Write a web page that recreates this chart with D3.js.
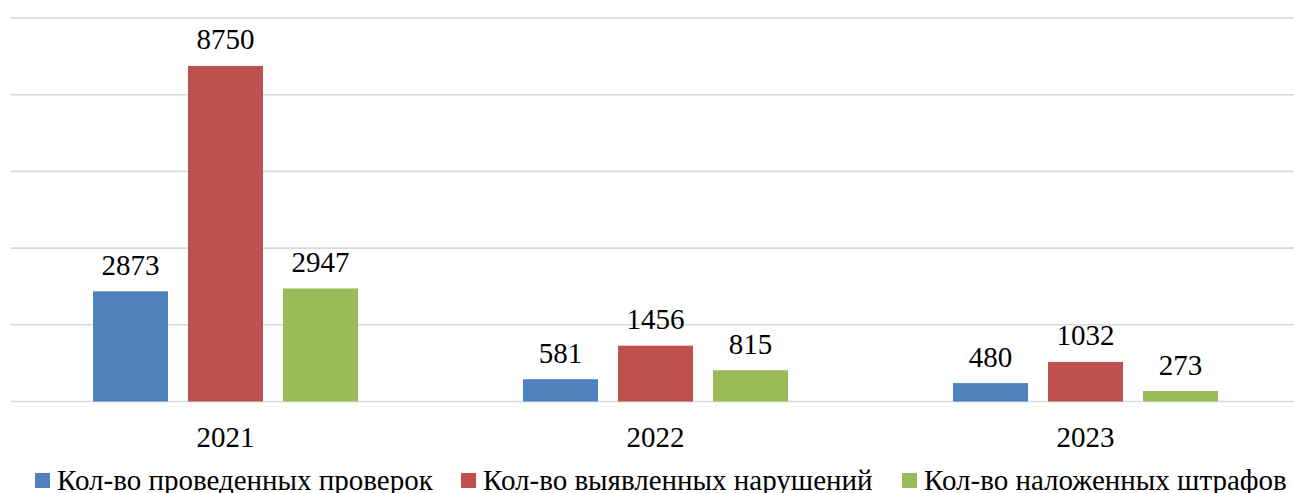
<!DOCTYPE html>
<html><head><meta charset="utf-8">
<script src="https://cdn.jsdelivr.net/npm/d3@7"></script>
</head>
<body style="margin:0">
<svg id="s" width="1294" height="493"></svg>
<script>
const categories = ["2021", "2022", "2023"];
const seriesNames = ["Кол-во проведенных проверок", "Кол-во выявленных нарушений", "Кол-во наложенных штрафов"];
const inspections = [2873, 581, 480];
const violations = [8750, 1456, 1032];
const fines = [2947, 815, 273];
const yTicks = [0, 2000, 4000, 6000, 8000, 10000];
const colors = ["#4f81bd", "#c0504d", "#9bbb59"];

(function () {
const FONT = '"Liberation Serif", Tinos, Times, monospace';
const series = [inspections, violations, fines];
const svg = d3.select("#s");
const pLeft = 10.5, pRight = 1300.5, pTop = 18, pBottom = 401.5;

const x = d3.scaleBand().domain(categories).range([pLeft, pRight]).padding(0);
const y = d3.scaleLinear().domain([0, 10000]).range([pBottom, pTop]);
const barW = 75, gap = 20;
const groupW = barW * 3 + gap * 2;
const xs = d3.scaleBand().domain(d3.range(series.length))
  .range([0, groupW]).paddingInner(gap / (barW + gap)).paddingOuter(0);

svg.append("g").selectAll("line").data(yTicks).join("line")
  .attr("x1", pLeft).attr("x2", pRight)
  .attr("y1", d => y(d)).attr("y2", d => y(d))
  .attr("stroke", "#d9d9d9").attr("stroke-width", 1.6);

const bars = [];
categories.forEach((c, ci) => series.forEach((s, si) => bars.push({c, si, v: s[ci]})));
const gx = d => x(d.c) + x.bandwidth() / 2 - groupW / 2 + xs(d.si);

svg.append("g").selectAll("rect").data(bars).join("rect")
  .attr("x", gx).attr("width", xs.bandwidth())
  .attr("y", d => y(d.v)).attr("height", d => y(0) - y(d.v))
  .attr("fill", d => colors[d.si]);

svg.selectAll("text.val").data(bars).join("text").attr("class", "val")
  .attr("x", d => gx(d) + xs.bandwidth() / 2)
  .attr("y", d => y(d.v) - 16.5)
  .attr("text-anchor", "middle")
  .attr("font-size", 29)
  .style("font-family", FONT)
  .text(d => d.v);

svg.selectAll("text.cat").data(categories).join("text").attr("class", "cat")
  .attr("x", d => x(d) + x.bandwidth() / 2)
  .attr("y", 446.5)
  .attr("text-anchor", "middle")
  .attr("font-size", 29)
  .style("font-family", FONT)
  .text(d => d);

const legendX = [35, 461, 902];
svg.selectAll("rect.lg").data(seriesNames).join("rect").attr("class", "lg")
  .attr("x", (d, i) => legendX[i]).attr("y", 473).attr("width", 15).attr("height", 15)
  .attr("fill", (d, i) => colors[i]);
svg.selectAll("text.lg").data(seriesNames).join("text").attr("class", "lg")
  .attr("x", (d, i) => legendX[i] + 22).attr("y", 490)
  .attr("font-size", 29)
  .style("font-family", FONT)
  .text(d => d);
})();
</script>
</body></html>
